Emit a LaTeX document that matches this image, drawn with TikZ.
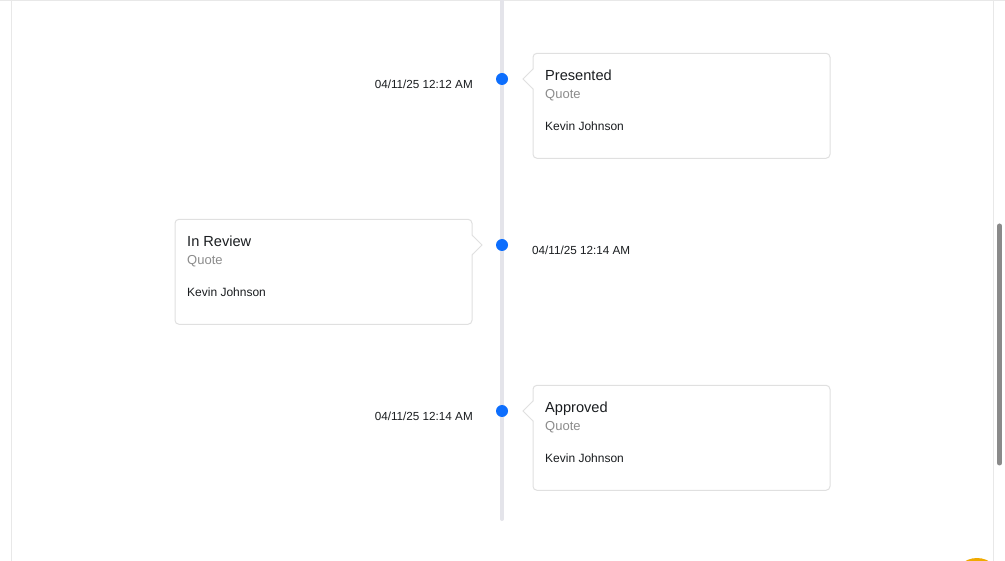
\documentclass[tikz,border=0pt]{standalone}
\usepackage{fontspec}
\setmainfont{Liberation Sans}
\definecolor{dotblue}{HTML}{0D6EFD}
\definecolor{linegray}{HTML}{E4E4EA}
\definecolor{cardborder}{HTML}{E0E0E0}
\definecolor{txtdark}{HTML}{1A1D20}
\definecolor{txtgray}{HTML}{8C8C8C}
\definecolor{framegray}{HTML}{E8E8E8}
\definecolor{scrollgray}{HTML}{8A8A8A}
\definecolor{badge}{HTML}{F0AA00}
\tikzset{
  titletext/.style={anchor=base west, inner sep=0pt, text=txtdark, font=\fontsize{14.6}{16}\selectfont},
  subtext/.style={anchor=base west, inner sep=0pt, text=txtgray, font=\fontsize{13}{15}\selectfont},
  bodytext/.style={anchor=base west, inner sep=0pt, text=txtdark, font=\fontsize{12}{14}\selectfont},
  datetext/.style={inner sep=0pt, text=txtdark, font=\fontsize{11.7}{14}\selectfont},
  dot/.style={circle, fill=dotblue, minimum size=12pt, inner sep=0pt},
  cardbox/.style={draw=cardborder, line width=1pt, rounded corners=4pt, fill=white},
  notch/.style={draw=cardborder, line width=1pt, fill=white, line join=miter}
}
\begin{document}
\begin{tikzpicture}[x=1pt,y=-1pt]
\useasboundingbox (0,0) rectangle (1005,561);
\clip (0,0) rectangle (1005,561);
\fill[white] (0,0) rectangle (1005,561);
% frame
\draw[framegray, line width=1pt] (11.5,0) -- (11.5,561);
\draw[framegray, line width=1pt] (993.5,0) -- (993.5,561);
\draw[framegray, line width=1.2pt] (0,0.6) -- (1005,0.6);
% scrollbar
\draw[scrollgray, line width=5pt, line cap=round] (999.5,226) -- (999.5,463);
% badge
\fill[badge] (977,582) circle (24);
% timeline
\coordinate (ltop) at (502,0);
\coordinate (lbot) at (502,519);
\draw[linegray, line width=4pt, line cap=round] (ltop) -- (lbot);
% dots
\node[dot] (d1) at (502,79) {};
\node[dot] (d2) at (502,245) {};
\node[dot] (d3) at (502,411) {};
% card 1 (right)
\draw[cardbox] (533,53.3) rectangle (830,158.3);
\fill[white] (534,69) -- (523,79) -- (534,89) -- cycle;
\draw[notch, fill=none] (533,69) -- (523,79) -- (533,89);
\node[titletext] (t1) at (545,80.3) {Presented};
\node[subtext] (q1) at (545,98.3) {Quote};
\node[bodytext] (k1) at (545,131) {Kevin Johnson};
\node[datetext, anchor=base east] (dt1) at (473,88.5) {04/11/25 12:12 AM};
% card 2 (left)
\draw[cardbox] (175,219.3) rectangle (472,324.3);
\fill[white] (471,235) -- (482,245) -- (471,255) -- cycle;
\draw[notch, fill=none] (472,235) -- (482,245) -- (472,255);
\node[titletext] (t2) at (187,246.3) {In Review};
\node[subtext] (q2) at (187,264.3) {Quote};
\node[bodytext] (k2) at (187,297) {Kevin Johnson};
\node[datetext, anchor=base west] (dt2) at (532,254.5) {04/11/25 12:14 AM};
% card 3 (right)
\draw[cardbox] (533,385.3) rectangle (830,490.3);
\fill[white] (534,401) -- (523,411) -- (534,421) -- cycle;
\draw[notch, fill=none] (533,401) -- (523,411) -- (533,421);
\node[titletext] (t3) at (545,412.3) {Approved};
\node[subtext] (q3) at (545,430.3) {Quote};
\node[bodytext] (k3) at (545,463) {Kevin Johnson};
\node[datetext, anchor=base east] (dt3) at (473,420.5) {04/11/25 12:14 AM};
\end{tikzpicture}
\end{document}
